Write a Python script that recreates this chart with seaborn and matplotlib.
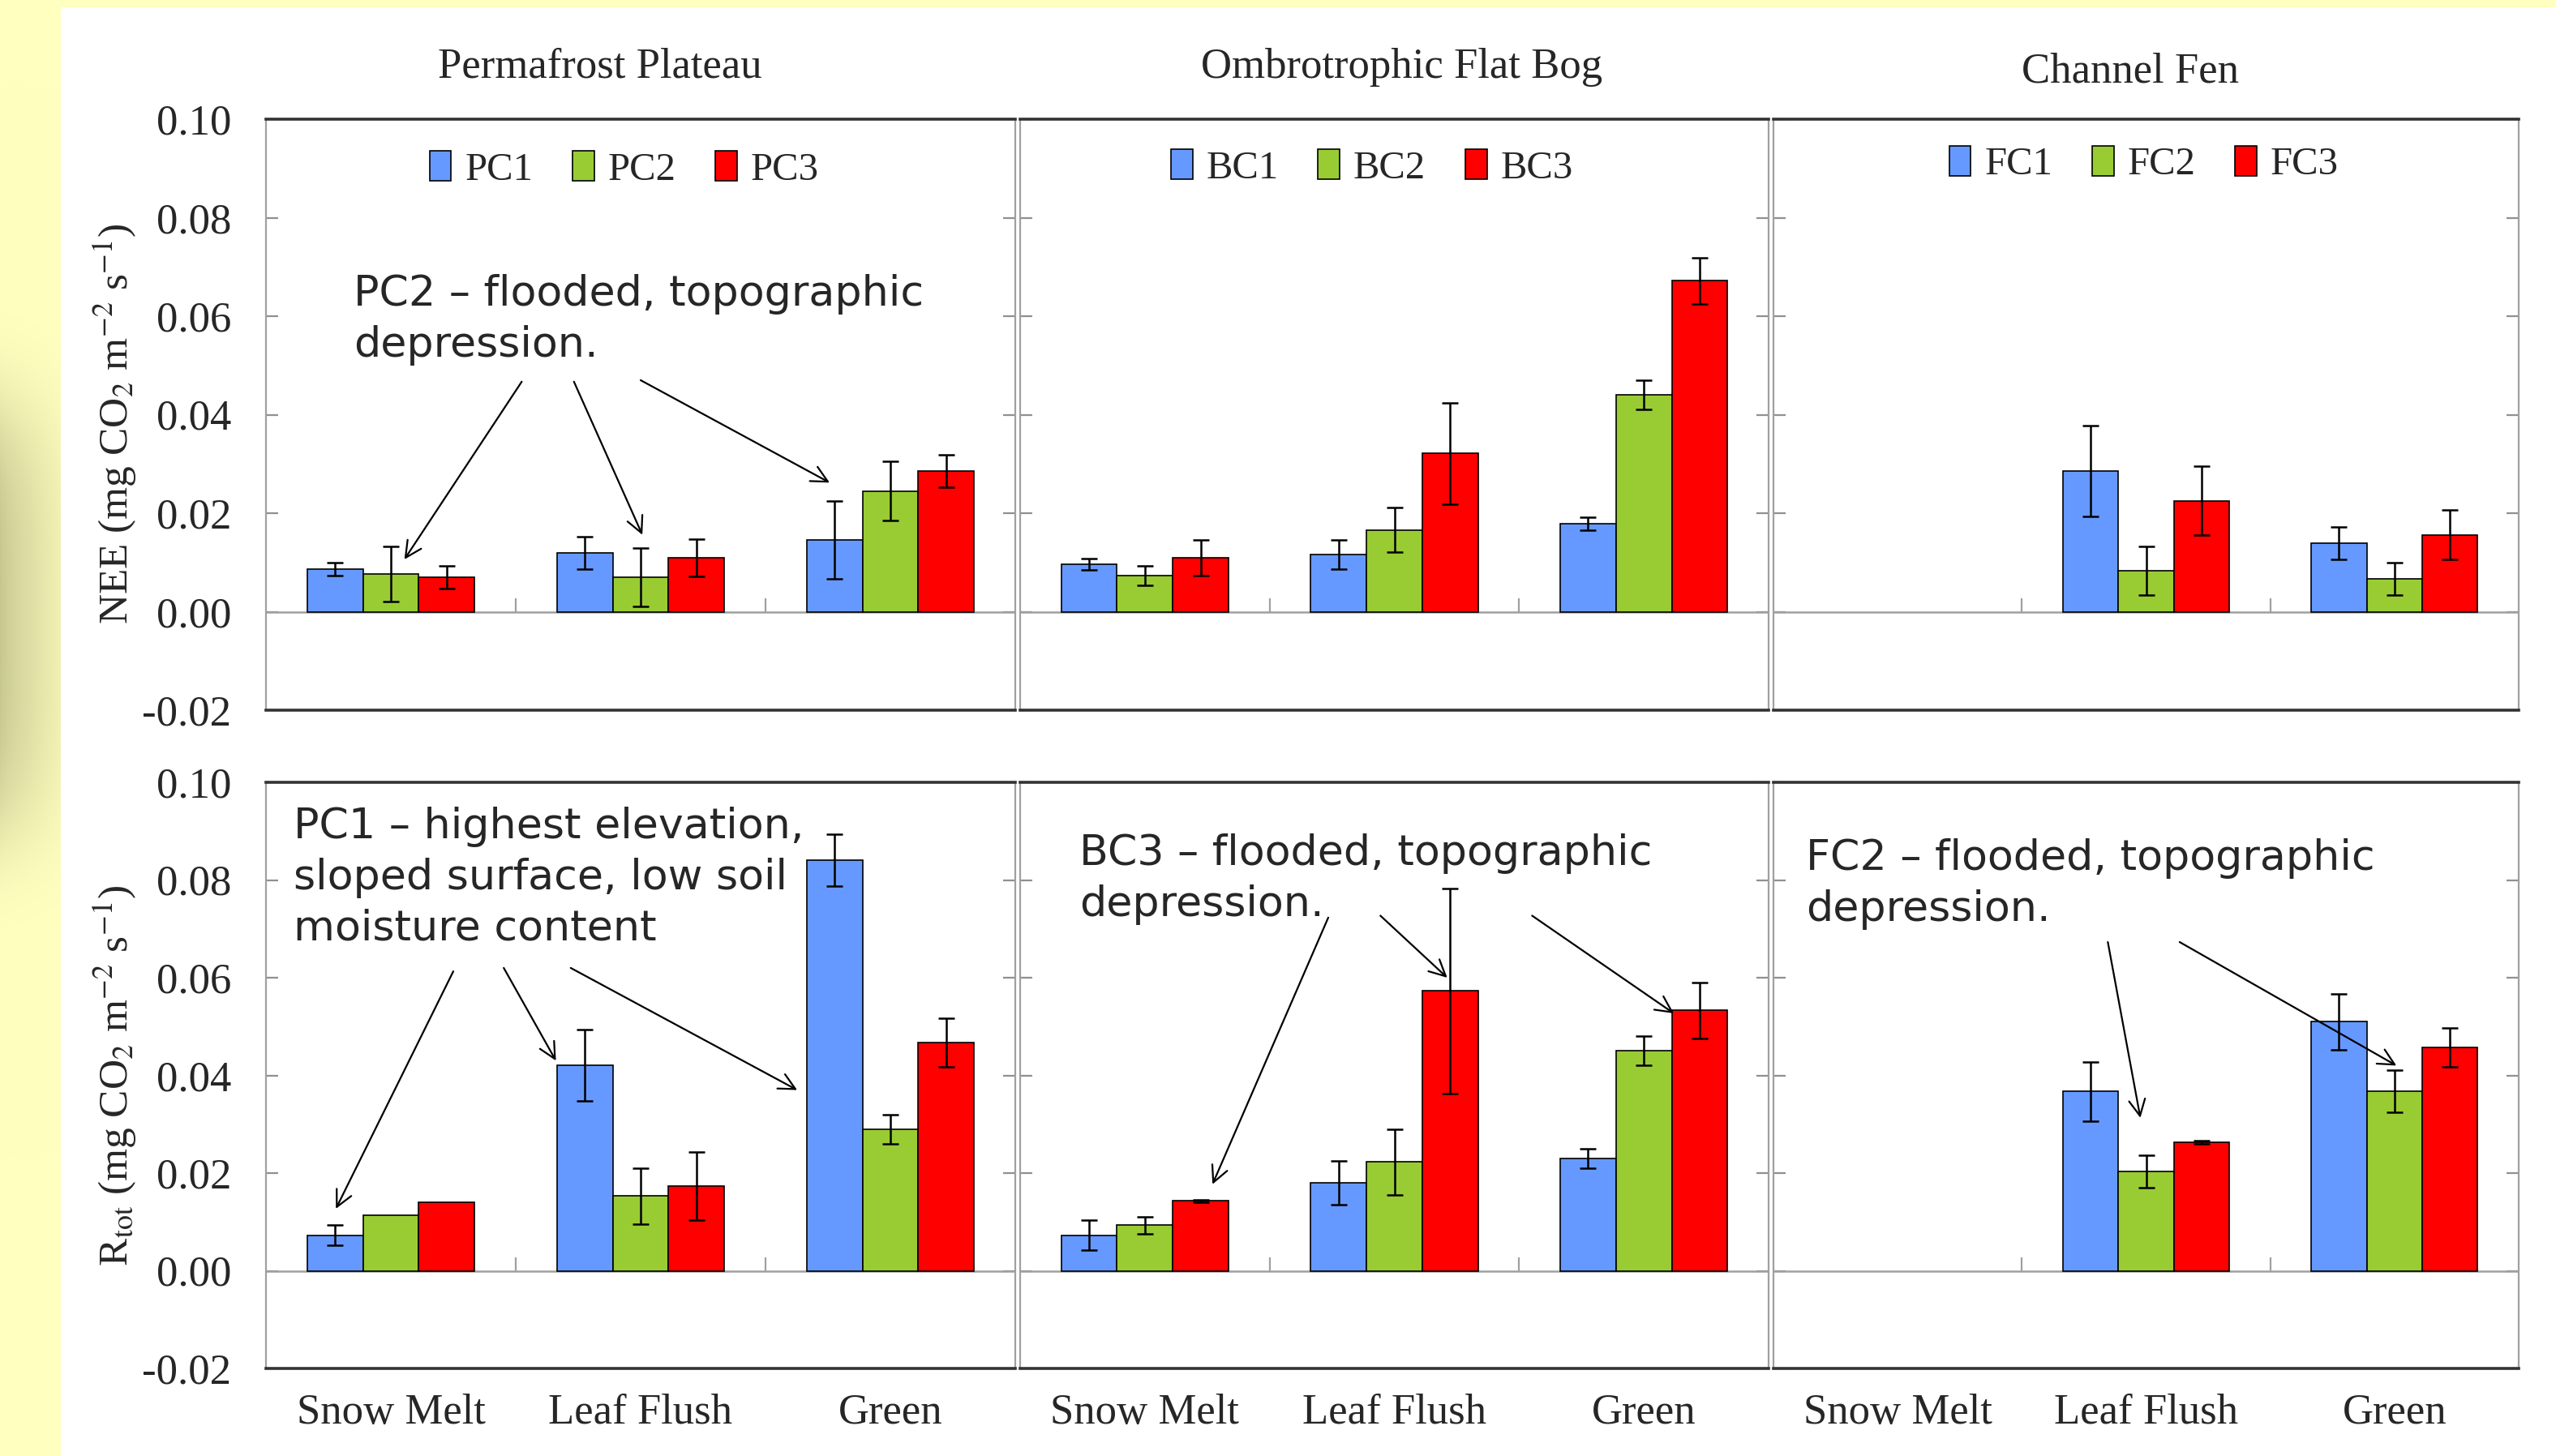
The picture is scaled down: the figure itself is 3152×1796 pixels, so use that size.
import numpy as np
import pandas as pd
import matplotlib
matplotlib.use("Agg")
import matplotlib.pyplot as plt
from matplotlib.patches import Rectangle
from matplotlib.ticker import FormatStrFormatter
import seaborn as sns

# ---- data ----
seasons = ["Snow Melt", "Leaf Flush", "Green"]
sites = ["Permafrost Plateau", "Ombrotrophic Flat Bog", "Channel Fen"]
plot_names = [["PC1", "PC2", "PC3"], ["BC1", "BC2", "BC3"], ["FC1", "FC2", "FC3"]]
colors = ["#6699FF", "#99CC33", "#FF0000"]
nan = np.nan

# NEE (rows = plot 1..3, columns = seasons)
pp_nee = [[0.0086, 0.0119, 0.0146], [0.0076, 0.0070, 0.0245], [0.0070, 0.0109, 0.0285]]
pp_nee_err = [[0.0013, 0.0033, 0.0079], [0.0056, 0.0060, 0.0060], [0.0023, 0.0038, 0.0033]]
bog_nee = [[0.0096, 0.0116, 0.0179], [0.0073, 0.0166, 0.0440], [0.0109, 0.0321, 0.0672]]
bog_nee_err = [[0.0012, 0.0030, 0.0013], [0.0020, 0.0045, 0.0030], [0.0036, 0.0103, 0.0047]]
fen_nee = [[nan, 0.0285, 0.0139], [nan, 0.0083, 0.0066], [nan, 0.0225, 0.0156]]
fen_nee_err = [[nan, 0.0092, 0.0033], [nan, 0.0050, 0.0033], [nan, 0.0070, 0.0050]]

# Rtot
pp_r = [[0.0073, 0.0420, 0.0840], [0.0113, 0.0153, 0.0290], [0.0140, 0.0173, 0.0467]]
pp_r_err = [[0.0020, 0.0073, 0.0053], [nan, 0.0057, 0.0030], [nan, 0.0070, 0.0050]]
bog_r = [[0.0073, 0.0180, 0.0230], [0.0093, 0.0223, 0.0450], [0.0143, 0.0573, 0.0533]]
bog_r_err = [[0.0030, 0.0045, 0.0020], [0.0017, 0.0067, 0.0030], [0.0003, 0.0210, 0.0057]]
fen_r = [[nan, 0.0367, 0.0510], [nan, 0.0203, 0.0367], [nan, 0.0263, 0.0457]]
fen_r_err = [[nan, 0.0060, 0.0057], [nan, 0.0033, 0.0043], [nan, 0.0003, 0.0040]]

yticks = [-0.02, 0.00, 0.02, 0.04, 0.06, 0.08, 0.10]

annotations = [
    # (row, col, text, text xy, [(arrow start, arrow end), ...])
    (0, 0, "PC2 \u2013 flooded, topographic\ndepression.", (-0.149, 0.0685),
     [((0.524, 0.0467), (0.054, 0.0106)),
      ((0.733, 0.0467), (1.007, 0.0156)),
      ((1.000, 0.0470), (1.757, 0.0262))]),
    (1, 0, "PC1 \u2013 highest elevation,\nsloped surface, low soil\nmoisture content", (-0.39, 0.0950),
     [((0.250, 0.0613), (-0.220, 0.0127)),
      ((0.452, 0.0620), (0.661, 0.0430)),
      ((0.720, 0.0620), (1.627, 0.0370))]),
    (1, 1, "BC3 \u2013 flooded, topographic\ndepression.", (-0.263, 0.0895),
     [((0.735, 0.0723), (0.271, 0.0177)),
      ((0.944, 0.0727), (1.212, 0.0600)),
      ((1.552, 0.0727), (2.120, 0.0527))]),
    (1, 2, "FC2 \u2013 flooded, topographic\ndepression.", (-0.369, 0.0885),
     [((0.846, 0.0673), (0.977, 0.0313)),
      ((1.135, 0.0673), (2.008, 0.0420))]),
]


def long_table(values, names):
    rows = []
    for j, name in enumerate(names):
        for i, season in enumerate(seasons):
            rows.append({"season": season, "plot": name, "value": values[j][i]})
    return pd.DataFrame(rows)


sns.set_theme(style="white")
plt.rcParams["font.family"] = ["Liberation Serif", "DejaVu Serif"]
plt.rcParams["mathtext.fontset"] = "stix"
plt.rcParams["axes.unicode_minus"] = False

W, H = 3152, 1796
fig = plt.figure(figsize=(W / 200, H / 200), dpi=200)
fig.patch.set_facecolor((1.0, 1.0, 0.75))

# background: white slide area + shaded left strip
strip_w = 75
fig.add_artist(Rectangle((strip_w / W, 0), 1 - strip_w / W, 1 - 9 / H,
                         transform=fig.transFigure, facecolor="white",
                         edgecolor="none", zorder=-5))
yy, xx = np.mgrid[0:H, 0:strip_w]
shade = np.exp(-(np.abs(yy - 765) / 270.0) ** 4) * (1 - 0.75 * (xx / strip_w) ** 0.8)
yellow = np.array([1.0, 1.0, 0.75])
olive = np.array([0.78, 0.78, 0.57])
img = yellow[None, None, :] * (1 - shade[..., None]) + olive[None, None, :] * shade[..., None]
bg = fig.add_axes([0, 0, strip_w / W, 1], zorder=-10)
bg.imshow(img, aspect="auto", interpolation="bilinear")
bg.axis("off")

col_x = [(328, 924), (1258, 923), (2187, 919)]
row_y = [(147, 729), (965, 723)]
title_pos = [(0.446, 1.088), (0.51, 1.088), (0.479, 1.080)]
legend_pos = [(0.478, 0.915), (0.47, 0.918), (0.497, 0.924)]

values = [[pp_nee, bog_nee, fen_nee], [pp_r, bog_r, fen_r]]
errors = [[pp_nee_err, bog_nee_err, fen_nee_err], [pp_r_err, bog_r_err, fen_r_err]]
ylabels = [r"NEE (mg CO$_\mathrm{2}$ m$^\mathrm{-2}$ s$^\mathrm{-1}$)",
           r"R$_\mathrm{tot}$ (mg CO$_\mathrm{2}$ m$^\mathrm{-2}$ s$^\mathrm{-1}$)"]

width = 0.67
axes = {}
for r in range(2):
    for c in range(3):
        x0, w = col_x[c]
        y0, h = row_y[r]
        ax = fig.add_axes([x0 / W, 1 - (y0 + h) / H, w / W, h / H])
        axes[(r, c)] = ax
        ax.set_facecolor("white")
        df = long_table(values[r][c], plot_names[c])
        sns.barplot(data=df, x="season", y="value", hue="plot",
                    order=seasons, hue_order=plot_names[c], palette=colors,
                    saturation=1, width=width, errorbar=None,
                    edgecolor="black", linewidth=0.6, legend=(r == 0),
                    ax=ax, zorder=2)

        # error bars at each dodged bar position
        for j in range(3):
            xs = np.arange(len(seasons)) + (j - 1) * width / 3
            ax.errorbar(xs, values[r][c][j], yerr=errors[r][c][j], fmt="none",
                        ecolor="black", elinewidth=0.9, capsize=3.6,
                        capthick=0.9, zorder=3)

        ax.axhline(0, color="#a0a0a0", lw=0.9, zorder=1)
        ax.vlines([0.5, 1.5], 0, 0.0027, color="#a0a0a0", lw=0.8, zorder=1)

        ax.set_xlim(-0.5, 2.5)
        ax.set_ylim(-0.02, 0.10)
        ax.set_yticks(yticks)
        ax.yaxis.set_major_formatter(FormatStrFormatter("%.2f"))
        ax.tick_params(axis="y", direction="in", length=5.5, width=0.8,
                       color="#909090", left=True, right=True,
                       labelsize=19, pad=15.5, labelleft=(c == 0))
        ax.set_xlabel("")
        if r == 1:
            ax.tick_params(axis="x", length=0, labelsize=19, pad=11)
        else:
            ax.tick_params(axis="x", length=0, labelbottom=False)

        for side in ["top", "bottom"]:
            ax.spines[side].set_color("#333333")
            ax.spines[side].set_linewidth(1.3)
        for side in ["left", "right"]:
            ax.spines[side].set_color("#a0a0a0")
            ax.spines[side].set_linewidth(0.8)

        if c == 0:
            ax.set_ylabel(ylabels[r], fontsize=18.5)
            ax.yaxis.set_label_coords(-0.17, 0.485 if r == 0 else 0.5)
        else:
            ax.set_ylabel("")

        if r == 0:
            tx, ty = title_pos[c]
            ax.text(tx, ty, sites[c], transform=ax.transAxes, ha="center",
                    va="center", fontsize=19)
            lx, ly = legend_pos[c]
            sns.move_legend(ax, "center", bbox_to_anchor=(lx, ly), ncol=3,
                            frameon=False, title=None, fontsize=17.5,
                            handlelength=0.55, handleheight=0.8,
                            handletextpad=0.35, columnspacing=1.0)

for r, c, text, (tx, ty), arrows in annotations:
    ax = axes[(r, c)]
    ax.text(tx, ty, text, ha="left", va="top", fontsize=18.8,
            family="DejaVu Sans", linespacing=1.32, zorder=5)
    for start, end in arrows:
        ax.annotate("", xy=end, xytext=start,
                    arrowprops=dict(arrowstyle="->", lw=0.8, color="black",
                                    shrinkA=0, shrinkB=0, mutation_scale=18),
                    zorder=5)

fig.savefig("out.png", dpi=200, facecolor=fig.get_facecolor())
